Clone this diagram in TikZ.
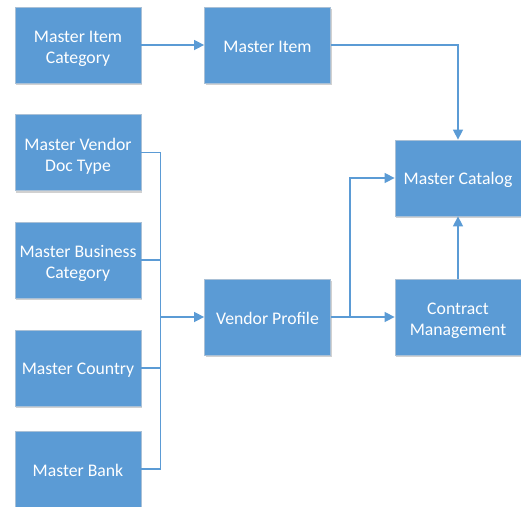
\documentclass[tikz,border=0pt]{standalone}
\usepackage{fontspec}
\setmainfont{Carlito}
\usetikzlibrary{arrows.meta,shadows}
\definecolor{boxblue}{HTML}{5B9BD5}
\definecolor{boxedge}{HTML}{A9C0D6}
% struts that settle the first line of a label a little lower in its box
\newcommand\onefix{\rule{0pt}{15.5pt}}
\newcommand\twofix{\rule{0pt}{19pt}}
\tikzset{
  block/.style={rectangle, fill=boxblue, draw=boxedge, line width=0.8pt,
    minimum width=126pt, minimum height=76pt, inner sep=2pt,
    text=white, align=center, font=\fontsize{17.7}{21}\selectfont,
    drop shadow={shadow xshift=1pt, shadow yshift=-2pt, opacity=0.18, fill=black}},
  link/.style={draw=boxblue, line width=1.5pt},
  arrowlink/.style={link, -{Triangle[length=10pt,width=10pt]}}
}
\begin{document}
\begin{tikzpicture}[x=1pt,y=-1pt]
\useasboundingbox (0,0) rectangle (521,506);
\clip (0,0) rectangle (521,506);
% boxes
\node[block] (mic) at (78,45) {\twofix Master Item\\Category};
\node[block] (mi) at (267.5,45) {\onefix Master Item};
\node[block] (mvdt) at (78,152.5) {\twofix Master Vendor\\Doc Type};
\node[block] (mbc) at (78,260) {\twofix Master Business\\Category};
\node[block] (mco) at (78,368) {\onefix Master Country};
\node[block] (mba) at (78,469) {\onefix Master Bank};
\node[block] (vp) at (267.5,317) {\onefix Vendor Profile};
\node[block] (mca) at (458,178) {\onefix Master Catalog};
\node[block] (cm) at (458,317) {\twofix Contract\\Management};
% bus collecting the vendor masters
\coordinate (bt) at (160.7,152.5);
\coordinate (bb) at (160.7,469);
\coordinate (sp) at (350,317);
\draw[link] (mvdt.east) -- (bt) -- (bb) -- (mba.east);
\draw[link] (mbc.east) -- (mbc.east -| bt);
\draw[link] (mco.east) -- (mco.east -| bt);
\draw[arrowlink] (vp.west -| bt) -- (vp.west);
% flows
\draw[arrowlink] (mic) -- (mi);
\draw[arrowlink] (mi.east) -| (mca.north);
\draw[arrowlink] (vp.east) -- (cm.west);
\draw[arrowlink] (sp) |- (mca.west);
\draw[arrowlink] (cm) -- (mca);
\end{tikzpicture}
\end{document}
